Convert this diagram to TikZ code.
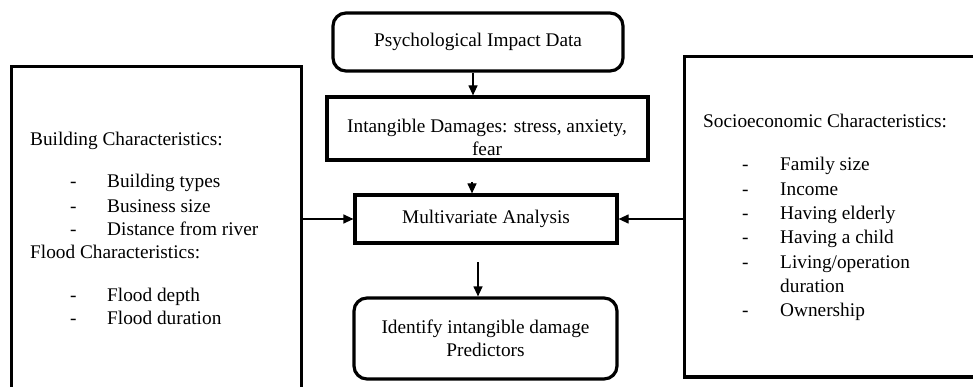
\documentclass[tikz,border=0pt]{standalone}
\usepackage{fontspec}
\setmainfont{Liberation Serif}
\usetikzlibrary{arrows.meta}
\begin{document}
\begin{tikzpicture}[x=1pt,y=-1pt,
  every node/.style={font=\fontsize{19.3}{23}\selectfont},
  thickbox/.style={draw, line width=3.2pt, inner sep=0pt},
  roundbox/.style={thickbox, rounded corners=13pt},
  sideline/.style={draw, line width=3.4pt},
  txt/.style={inner sep=0pt, anchor=base west},
  conn/.style={line width=1.2pt, -{Triangle[length=10pt,width=9pt]}}]
\useasboundingbox (0,0) rectangle (973,387);
\clip (0,0) rectangle (973,387);
% side boxes (open past the picture's edges)
\draw[sideline] (11.5,400) |- (301.5,66.5) -- (301.5,400);
\draw[sideline] (990,56.5) -| (684.25,377) -- (990,377);
\coordinate (lboxE) at (301.5,219);
\coordinate (rboxW) at (684.25,219);
% central boxes
\node[roundbox, minimum width=290pt, minimum height=58pt] (psych) at (478,42) {Psychological Impact Data};
\node[thickbox, minimum width=321pt, minimum height=63pt] (intang) at (487.5,128.5) {};
\node[inner sep=0pt, align=center] (intangtxt) at (487,137) {Intangible Damages: stress, anxiety,\\fear};
\node[thickbox, minimum width=262pt, minimum height=48pt] (multi) at (486,219) {Multivariate Analysis};
\node[roundbox, minimum width=263pt, minimum height=81pt, align=center] (ident) at (485.5,338.5) {Identify intangible damage\\Predictors};
% connectors
\coordinate (a2) at (472,182);
\coordinate (a5) at (478,262);
\draw[conn] ([xshift=-5pt]psych.south) -- ([xshift=-5pt]psych.south |- intang.north);
\draw[conn] (a2) -- (a2 |- multi.north);
\draw[conn] (lboxE) -- (multi.west);
\draw[conn] (rboxW) -- (multi.east);
\draw[conn] (a5) -- (a5 |- ident.north);
% left text
\node[txt] (lh1) at (30,146) {Building Characteristics:};
\foreach \y/\t [count=\i] in {188/{Building types}, 212/{Business size}, 236/{Distance from river}, 301/{Flood depth}, 324/{Flood duration}} {
  \node[txt] (ld\i) at (70,\y) {-};
  \node[txt] (li\i) at (107,\y) {\t};
}
\node[txt] (lh2) at (30,258) {Flood Characteristics:};
% right text
\node[txt] (rh1) at (703,128) {Socioeconomic Characteristics:};
\foreach \y/\t [count=\i] in {171/{Family size}, 195.3/{Income}, 219.6/{Having elderly}, 243.9/{Having a child}, 268.2/{Living/operation}, 316.8/{Ownership}} {
  \node[txt] (rd\i) at (742,\y) {-};
  \node[txt] (ri\i) at (780,\y) {\t};
}
\node[txt] (ri7) at (780,292.5) {duration};
\end{tikzpicture}
\end{document}
